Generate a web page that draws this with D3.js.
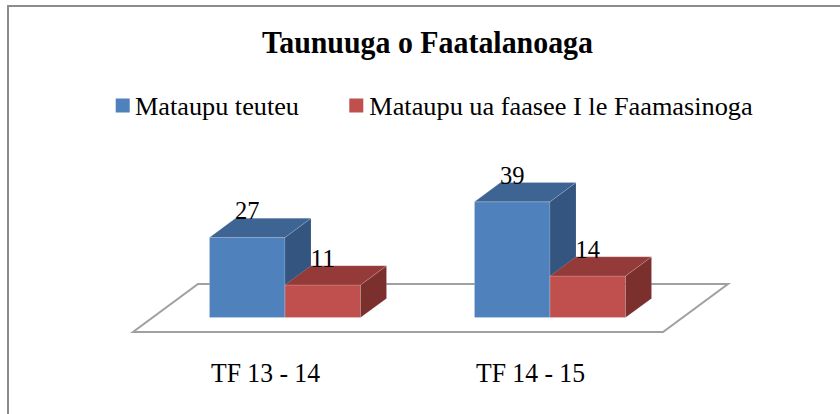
<!DOCTYPE html>
<html>
<head>
<meta charset="utf-8">
<script src="https://cdn.jsdelivr.net/npm/d3@7/dist/d3.min.js"></script>
<style>
  html, body { margin: 0; padding: 0; background: #fff; }
  svg { display: block; }
</style>
</head>
<body>
<svg id="chart" width="840" height="414"></svg>
<script>
// ---- data ----
const title = "Taunuuga o Faatalanoaga";
const categories = ["TF 13 - 14", "TF 14 - 15"];
const seriesNames = ["Mataupu teuteu", "Mataupu ua faasee I le Faamasinoga"];
const mataupuTeuteu = [27, 39];
const mataupuFaasee = [11, 14];
const seriesValues = [mataupuTeuteu, mataupuFaasee];

// ---- styles ----
const FONT = '"Liberation Serif"';
const colors = [
  { front: "#4F81BD", top: "#3E6494", side: "#34557F" },
  { front: "#C0504D", top: "#943B39", side: "#7B302E" }
];

const svg = d3.select("#chart");

// outer frame
svg.append("path")
  .attr("d", "M8,414 L8,6 L840,6")
  .attr("fill", "none")
  .attr("stroke", "#8c8c8c")
  .attr("stroke-width", 2);

// ---- geometry ----
const floorFront = 332;
const depth = { dx: 65, dy: -48 };
const barStart = 0.3, barDepth = 0.4;

const x0 = d3.scaleBand().domain(categories).range([133, 663])
  .paddingInner(0.43).paddingOuter(0.215);
const x1 = d3.scaleBand().domain(d3.range(seriesNames.length)).range([0, x0.bandwidth()]);
const y = d3.scaleLinear().domain([0, 45]).range([floorFront, floorFront - 45 * 2.97]);

// floor
const fx0 = x0.range()[0], fx1 = x0.range()[1];
svg.append("path")
  .attr("d", `M${fx0},${floorFront} L${fx1},${floorFront} L${fx1 + depth.dx},${floorFront + depth.dy} L${fx0 + depth.dx},${floorFront + depth.dy} Z`)
  .attr("fill", "#fff")
  .attr("stroke", "#a0a0a0")
  .attr("stroke-width", 2);

const sx = barStart * depth.dx, sy = barStart * depth.dy;
const bdx = barDepth * depth.dx, bdy = barDepth * depth.dy;

const bars = [];
categories.forEach((c, ci) => {
  seriesValues.forEach((vals, si) => {
    bars.push({ c, si, v: vals[ci] });
  });
});

const g = svg.append("g");
const labels = svg.append("g");
bars.forEach(b => {
  const xl = x0(b.c) + x1(b.si) + sx;
  const xr = xl + x1.bandwidth();
  const yb = y(0) + sy;
  const yt = y(b.v) + sy;
  const col = colors[b.si];
  const bg = g.append("g");
  bg.append("path")
    .attr("d", `M${xl},${yb} L${xr},${yb} L${xr},${yt} L${xl},${yt} Z`)
    .attr("fill", col.front).attr("stroke", "rgba(255,255,255,0.25)").attr("stroke-width", 0.8);
  bg.append("path")
    .attr("d", `M${xr},${yb} L${xr + bdx},${yb + bdy} L${xr + bdx},${yt + bdy} L${xr},${yt} Z`)
    .attr("fill", col.side).attr("stroke", "rgba(255,255,255,0.15)").attr("stroke-width", 0.8);
  bg.append("path")
    .attr("d", `M${xl},${yt} L${xr},${yt} L${xr + bdx},${yt + bdy} L${xl + bdx},${yt + bdy} Z`)
    .attr("fill", col.top).attr("stroke", "rgba(255,255,255,0.2)").attr("stroke-width", 0.8);
  labels.append("text")
    .attr("x", (xl + xr) / 2)
    .attr("y", yt - 18)
    .attr("text-anchor", "middle")
    .style("font-family", FONT)
    .attr("font-size", 26)
    .attr("textLength", 24.5)
    .attr("lengthAdjust", "spacingAndGlyphs")
    .text(b.v);
});

// category labels
svg.selectAll(".cat").data(categories).enter().append("text")
  .attr("class", "cat")
  .attr("x", d => x0(d) + x0.bandwidth() / 2)
  .attr("y", 382)
  .attr("text-anchor", "middle")
  .style("font-family", FONT)
  .attr("font-size", 27)
  .attr("textLength", 109)
  .attr("lengthAdjust", "spacingAndGlyphs")
  .text(d => d);

// title
svg.append("text")
  .attr("x", 427.5).attr("y", 52.5)
  .attr("text-anchor", "middle")
  .style("font-family", FONT)
  .attr("font-size", 31)
  .attr("font-weight", "bold")
  .attr("textLength", 331)
  .attr("lengthAdjust", "spacingAndGlyphs")
  .text(title);

// legend
const legendPos = [{ sq: 115.7, tx: 135, w: 164 }, { sq: 349.3, tx: 369.3, w: 383.4 }];
seriesNames.forEach((n, i) => {
  svg.append("rect")
    .attr("x", legendPos[i].sq).attr("y", 98.5)
    .attr("width", 14).attr("height", 14)
    .attr("fill", colors[i].front);
  svg.append("text")
    .attr("x", legendPos[i].tx).attr("y", 115)
    .style("font-family", FONT)
    .attr("font-size", 25.5)
    .attr("textLength", legendPos[i].w)
    .attr("lengthAdjust", "spacingAndGlyphs")
    .text(n);
});
</script>
</body>
</html>
